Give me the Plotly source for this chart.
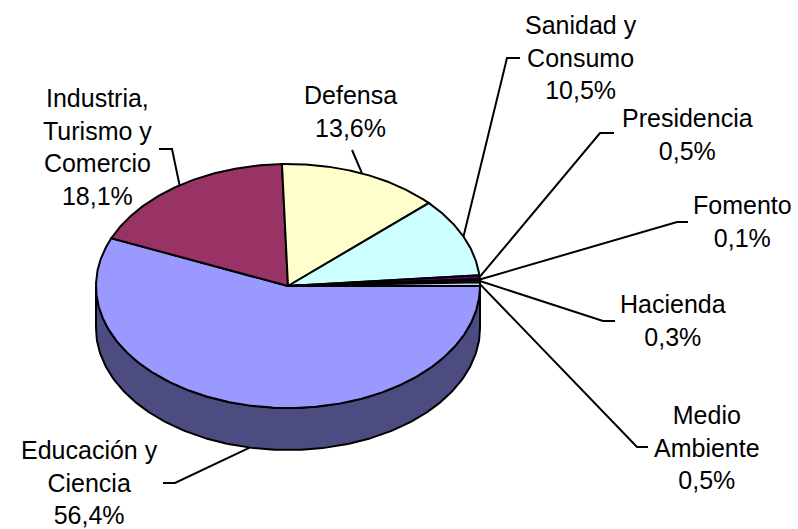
import numpy as np
import plotly.graph_objects as go

# ---- data ----
categories = ["Educación y Ciencia", "Industria, Turismo y Comercio", "Defensa",
              "Sanidad y Consumo", "Presidencia", "Fomento", "Hacienda", "Medio Ambiente"]
label_text = ["Educación y<br>Ciencia", "Industria,<br>Turismo y<br>Comercio", "Defensa",
              "Sanidad y<br>Consumo", "Presidencia", "Fomento", "Hacienda", "Medio<br>Ambiente"]
shares = [56.4, 18.1, 13.6, 10.5, 0.5, 0.1, 0.3, 0.5]

# ---- styles ----
top_colors = ["#9999FF", "#993366", "#FFFFCC", "#CCFFFF", "#660066", "#FF8080", "#0066CC", "#CCCCFF"]
side_colors = ["#4C4C80", "#4C1933", "#808066", "#668080", "#330033", "#804040", "#003366", "#666680"]

W, H = 798, 529
CX, CY, RX, RY, DEPTH = 288, 286, 192, 122, 42
START = 0.0  # degrees, clockwise on screen from 3 o'clock

label_pos = [(89, 482), (97, 147), (350, 111), (581, 57), (687, 134), (742, 221), (673, 320), (707, 447)]
leader_pts = [[(175, 483), (163, 483)], [(172, 149), (159, 149)], [(352, 150)],
              [(507, 58), (520, 58)], [(600, 133), (614, 133)], [(677, 222), (688, 222)],
              [(603, 321), (615, 321)], [(637, 447), (648, 447)]]

FONT = "Liberation Sans, Arial, sans-serif"


def ell(theta_deg, dy=0.0):
    t = np.radians(theta_deg)
    return CX + RX * np.cos(t), CY + RY * np.sin(t) + dy


total = sum(shares)
bounds = [START]
for v in shares:
    bounds.append(bounds[-1] + 360.0 * v / total)

fig = go.Figure()

# side walls (front half only: 0..180 deg)
for i, v in enumerate(shares):
    a1, a2 = bounds[i], bounds[i + 1]
    segs = []
    for off in (0, 360):
        lo, hi = max(a1, 0 + off), min(a2, 180 + off)
        if hi > lo:
            segs.append((lo, hi))
    for lo, hi in segs:
        th = np.linspace(lo, hi, 200)
        xt, yt = ell(th)
        xb, yb = ell(th[::-1], DEPTH)
        xs = np.concatenate([xt, xb, xt[:1]])
        ys = np.concatenate([yt, yb, yt[:1]])
        fig.add_trace(go.Scatter(x=xs, y=ys, mode="lines", fill="toself",
                                 fillcolor=side_colors[i],
                                 line=dict(color="black", width=2),
                                 hoverinfo="skip", showlegend=False))

# top faces
for i, v in enumerate(shares):
    a1, a2 = bounds[i], bounds[i + 1]
    n = max(3, int((a2 - a1) * 2))
    th = np.linspace(a1, a2, n)
    xt, yt = ell(th)
    xs = np.concatenate([[CX], xt, [CX]])
    ys = np.concatenate([[CY], yt, [CY]])
    fig.add_trace(go.Scatter(x=xs, y=ys, mode="lines", fill="toself",
                             fillcolor=top_colors[i],
                             line=dict(color="black", width=2),
                             hoverinfo="skip", showlegend=False))

# leader lines and labels
for i, v in enumerate(shares):
    mid = (bounds[i] + bounds[i + 1]) / 2.0
    s = np.sin(np.radians(mid))
    ax, ay = ell(mid, DEPTH if s > 0.3 else 0.0)
    pts = [(ax, ay)] + leader_pts[i]
    fig.add_trace(go.Scatter(x=[p[0] for p in pts], y=[p[1] for p in pts], mode="lines",
                             line=dict(color="black", width=2),
                             hoverinfo="skip", showlegend=False))
    pct = f"{v:.1f}".replace(".", ",") + "%"
    lx, ly = label_pos[i]
    fig.add_annotation(x=lx, y=ly, xref="x", yref="y", text=label_text[i] + "<br>" + pct,
                       showarrow=False, xanchor="center", yanchor="middle", align="center",
                       font=dict(family=FONT, size=25, color="black"))

fig.update_layout(
    width=W, height=H, autosize=False,
    margin=dict(l=0, r=0, t=0, b=0),
    paper_bgcolor="white", plot_bgcolor="white",
    xaxis=dict(range=[0, W], visible=False, fixedrange=True),
    yaxis=dict(range=[H, 0], visible=False, fixedrange=True),
    showlegend=False,
)

fig.write_html("out.html", config={"displayModeBar": False},
               post_script="document.body.style.margin='0';document.body.style.overflow='hidden';")
